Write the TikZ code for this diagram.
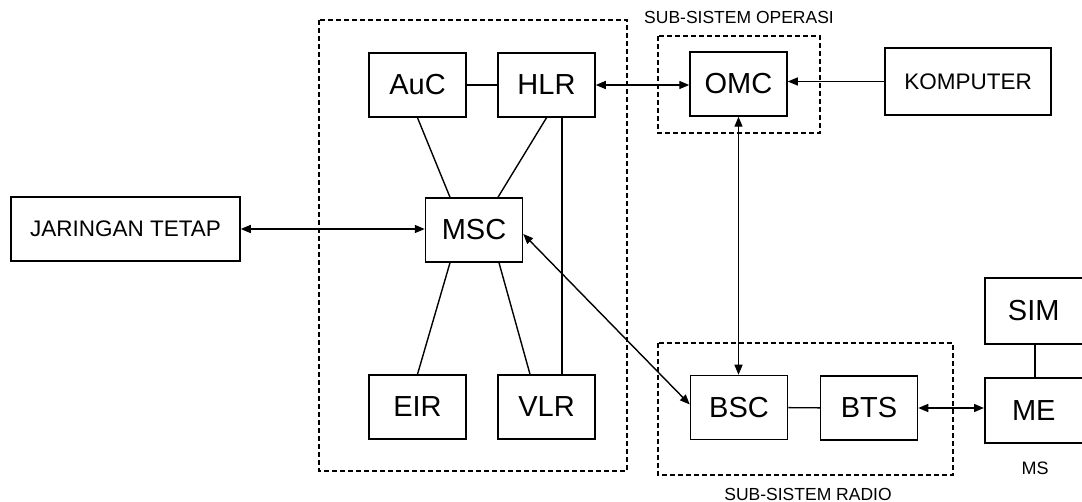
\documentclass[tikz,border=0pt]{standalone}
\usepackage{fontspec}
\setmainfont{Liberation Sans}
\usetikzlibrary{arrows.meta,calc}
\tikzset{
  box/.style={draw, line width=1.5pt, inner sep=0pt, minimum width=97pt, minimum height=64pt, font=\fontsize{29}{32}\selectfont},
  wbox/.style={draw, line width=1.5pt, inner sep=0pt, font=\fontsize{22.5}{25}\selectfont},
  grp/.style={draw, line width=1.6pt, dash pattern=on 5pt off 3pt},
  conn/.style={line width=1.4pt},
  biarrow/.style={conn, {Triangle[length=10pt,width=8pt]}-{Triangle[length=10pt,width=8pt]}},
  onearrow/.style={conn, -{Triangle[length=10pt,width=8pt]}},
  lbl/.style={inner sep=0pt, font=\fontsize{17.5}{19}\selectfont},
}
\begin{document}
\begin{tikzpicture}[x=1pt,y=-1pt]
\useasboundingbox (0,0) rectangle (1082,502);
\clip (0,0) rectangle (1082,502);
% groups
\draw[grp] (319,20) rectangle (627,471);
\draw[grp] (658,36) rectangle (820,133);
\draw[grp] (658,343) rectangle (953,475);
\node[lbl] (lop) at (739,17) {SUB-SISTEM OPERASI};
\node[lbl] (lrad) at (808,494) {SUB-SISTEM RADIO};
% boxes
\node[box] (auc) at (417.5,85) {AuC};
\node[box] (hlr) at (546.5,85) {HLR};
\node[box] (msc) at (474,230) {MSC};
\node[box] (eir) at (417.5,407) {EIR};
\node[box] (vlr) at (546.5,407) {VLR};
\node[box] (omc) at (738.5,84) {OMC};
\node[wbox, minimum width=166pt, minimum height=67pt] (komp) at (968,81.5) {KOMPUTER};
\node[wbox, minimum width=229pt, minimum height=64pt] (jar) at (125.5,229) {JARINGAN TETAP};
\node[box] (bsc) at (739,407.5) {BSC};
\node[box] (bts) at (869,408) {BTS};
\node[box, minimum width=120pt, minimum height=65pt, anchor=west] (me) at (984,410.5) {\hspace*{-22pt}ME};
\node[box, minimum width=120pt, minimum height=66pt, anchor=west] (sim) at (984,311) {\hspace*{-22pt}SIM};
\node[inner sep=0pt, font=\fontsize{18}{20}\selectfont] (ms) at (1035,468) {MS};
% connectors
\draw[conn] (auc) -- (hlr);
\draw[conn] (auc.south) -- ([xshift=-24pt]msc.north);
\draw[conn] (hlr.south) -- ([xshift=24pt]msc.north);
\draw[conn] ([xshift=-24pt]msc.south) -- (eir.north);
\draw[conn] ([xshift=25pt]msc.south) -- ([xshift=-16.5pt]vlr.north);
\draw[conn] ([xshift=15.5pt]hlr.south) -- ([xshift=15.5pt]vlr.north);
\draw[biarrow] (jar.east) -- (jar.east -| msc.west);
\draw[biarrow] ([yshift=-4pt]msc.east) -- ([yshift=3pt]bsc.west);
\draw[biarrow] (hlr.east) -- (hlr.east -| omc.west);
\draw[onearrow] (komp.west) -- (komp.west -| omc.east);
\draw[biarrow] (omc.south) -- (omc.south |- bsc.north);
\draw[conn] (bsc) -- (bts);
\draw[biarrow] (bts.east) -- (bts.east -| me.west);
\draw[conn] (sim.south -| 1035,0) -- (me.north -| 1035,0);
\end{tikzpicture}
\end{document}
